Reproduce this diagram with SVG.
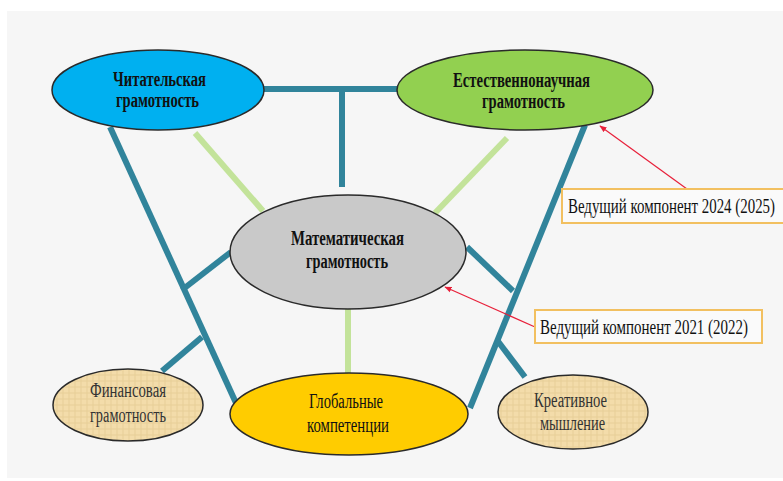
<svg xmlns="http://www.w3.org/2000/svg" width="783" height="481" viewBox="0 0 783 481">
<defs>
<style>
.teal{stroke:#31849b;stroke-width:6;fill:none;stroke-linecap:butt}
.lg{stroke:#c3e39a;stroke-width:6;fill:none}
.red{stroke:#e8203a;stroke-width:1.2;fill:none}
.el{stroke:#2a2a2a;stroke-width:1.5}
.t{font-family:"Liberation Serif","Times New Roman",serif;font-size:20px;fill:#111;text-anchor:start}
.b{font-weight:bold}
.box{fill:#fafafa;stroke:#f2c060;stroke-width:2}
</style>
<marker id="ah" viewBox="0 0 10 10" refX="9" refY="5" markerWidth="6" markerHeight="6" orient="auto">
<path d="M0,1 L10,5 L0,9 z" fill="#e8203a"/>
</marker>
<pattern id="parch" width="6" height="6" patternUnits="userSpaceOnUse">
<rect width="6" height="6" fill="#f3dcaa"/>
<path d="M0,3 H6 M3,0 V6" stroke="#e8cf98" stroke-width="1"/>
</pattern>
</defs>
<rect x="7" y="11" width="776" height="467" fill="#f6f6f6"/>
<g id="connectors">
<line class="teal" x1="262" y1="89" x2="398" y2="89"/>
<line class="teal" x1="342" y1="89" x2="342" y2="187"/>
<line class="teal" x1="110" y1="127" x2="236" y2="403"/>
<line class="teal" x1="585" y1="125" x2="470" y2="408"/>
<line class="teal" x1="182" y1="290" x2="231" y2="252"/>
<line class="teal" x1="202" y1="337" x2="162" y2="371"/>
<line class="teal" x1="467" y1="247" x2="513" y2="291"/>
<line class="teal" x1="497" y1="340" x2="525" y2="377"/>
<line class="lg" x1="195" y1="133" x2="263" y2="211"/>
<line class="lg" x1="507" y1="138" x2="435" y2="213"/>
<line class="lg" x1="348" y1="308" x2="348" y2="373"/>
<line class="red" x1="687" y1="189" x2="600" y2="126" marker-end="url(#ah)"/>
<line class="red" x1="535" y1="327" x2="445" y2="287" marker-end="url(#ah)"/>
</g>
<g id="reading">
<ellipse class="el" cx="158" cy="90" rx="106" ry="40" fill="#00b0f0"/>
<text class="t b" x="113" y="86" textLength="93" lengthAdjust="spacingAndGlyphs">Читательская</text>
<text class="t b" x="116" y="107" textLength="83" lengthAdjust="spacingAndGlyphs">грамотность</text>
</g>
<g id="science">
<ellipse class="el" cx="525" cy="90" rx="128" ry="40" fill="#92d050"/>
<text class="t b" x="453" y="87" textLength="137" lengthAdjust="spacingAndGlyphs">Естественнонаучная</text>
<text class="t b" x="482" y="108" textLength="83" lengthAdjust="spacingAndGlyphs">грамотность</text>
</g>
<g id="math">
<ellipse class="el" cx="348" cy="252" rx="118" ry="57" fill="#c9c9c9"/>
<text class="t b" x="291" y="245" textLength="113" lengthAdjust="spacingAndGlyphs">Математическая</text>
<text class="t b" x="306" y="268" textLength="82" lengthAdjust="spacingAndGlyphs">грамотность</text>
</g>
<g id="global">
<ellipse class="el" cx="349" cy="414" rx="119" ry="41" fill="#ffcc00"/>
<text class="t" x="309" y="408" textLength="74" lengthAdjust="spacingAndGlyphs">Глобальные</text>
<text class="t" x="307" y="432" textLength="82" lengthAdjust="spacingAndGlyphs">компетенции</text>
</g>
<g id="finance">
<ellipse class="el" cx="128" cy="405" rx="75" ry="36" fill="url(#parch)"/>
<text class="t" x="90" y="397" textLength="76" lengthAdjust="spacingAndGlyphs" style="fill:#333">Финансовая</text>
<text class="t" x="90" y="422" textLength="76" lengthAdjust="spacingAndGlyphs" style="fill:#333">грамотность</text>
</g>
<g id="creative">
<ellipse class="el" cx="573" cy="412" rx="75" ry="37" fill="url(#parch)"/>
<text class="t" x="534" y="407" textLength="73" lengthAdjust="spacingAndGlyphs" style="fill:#333">Креативное</text>
<text class="t" x="540" y="430" textLength="65" lengthAdjust="spacingAndGlyphs" style="fill:#333">мышление</text>
</g>
<g id="label2024">
<rect class="box" x="562" y="189" width="230" height="34"/>
<text class="t" x="568" y="213" textLength="207" lengthAdjust="spacingAndGlyphs">Ведущий компонент 2024 (2025)</text>
</g>
<g id="label2021">
<rect class="box" x="535" y="310" width="227" height="33"/>
<text class="t" x="540" y="334" textLength="208" lengthAdjust="spacingAndGlyphs">Ведущий компонент 2021 (2022)</text>
</g>
</svg>
